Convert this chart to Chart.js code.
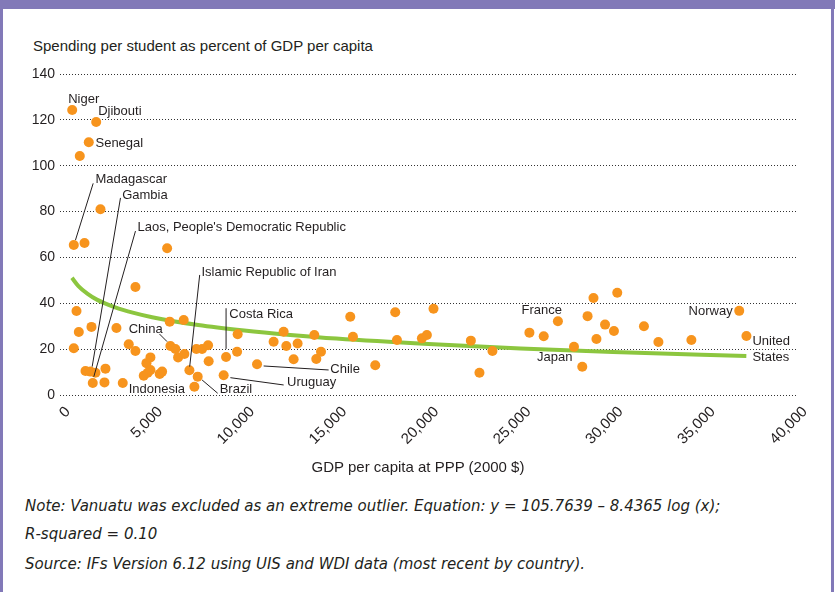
<!DOCTYPE html>
<html>
<head>
<meta charset="utf-8">
<script src="https://cdn.jsdelivr.net/npm/chart.js@4/dist/chart.umd.min.js"></script>
<style>
  html, body { margin: 0; padding: 0; background: #fff; }
  #wrap { position: relative; width: 835px; height: 592px; overflow: hidden; background: #fff; }
  .frame { position: absolute; background: #8279b8; }
  .txt { position: absolute; color: #231f20; white-space: nowrap; line-height: 1; }
  .sans { font-family: 'Liberation Sans', Arial, sans-serif; font-size: 15px; }
  .note { font-family: 'DejaVu Sans', sans-serif; font-style: italic; font-size: 15px; }
  #c { position: absolute; left: 0; top: 0; }
</style>
</head>
<body>
<div id="wrap">
  <div class="frame" style="left:0;top:0;width:835px;height:9px;"></div>
  <div class="frame" style="left:0;top:0;width:3px;height:592px;"></div>
  <div class="frame" style="left:831px;top:0;width:3px;height:592px;"></div>
  <div class="txt sans" style="left:33px;top:38px;">Spending per student as percent of GDP per capita</div>
  <canvas id="c" width="835" height="480"></canvas>
  <div class="txt sans" style="left:218px;top:459px;width:400px;text-align:center;">GDP per capita at PPP (2000 $)</div>
  <div class="txt note" style="left:25px;top:499px;">Note: Vanuatu was excluded as an extreme outlier. Equation: y = 105.7639 – 8.4365 log (x);</div>
  <div class="txt note" style="left:25px;top:527px;">R-squared = 0.10</div>
  <div class="txt note" style="left:25px;top:557px;">Source: IFs Version 6.12 using UIS and WDI data (most recent by country).</div>
</div>
<script>
// ---- data ----
const gdp = [662, 748, 748, 895, 1020, 1074, 1329, 1383, 1562, 1654, 1708, 1779, 1925, 1963, 2196, 2413, 2467,
  3064, 3406, 3731, 4094, 4094, 4545, 4691, 4761, 4908, 4908, 5412, 5542, 5814, 5954, 5992, 6263, 6410, 6714,
  6752, 7023, 7294, 7402, 7473, 7711, 8037, 8069, 8883, 9013, 9610, 9642, 10694, 11594, 12137, 12283, 12679,
  12896, 13802, 13910, 14165, 15754, 15900, 17110, 18194, 18287, 19642, 19913, 20272, 22299, 22766, 23471,
  25477, 26253, 27023, 27896, 28346, 28633, 28954, 29116, 29582, 30065, 30245, 31693, 32478, 34268, 36865, 37256];
const spending = [124.3, 65.4, 20.4, 36.6, 27.5, 104.2, 66.3, 10.5, 110.2, 10.2, 29.7, 5.2, 9.7, 119.1, 81.0, 5.5, 11.5,
  29.2, 5.2, 22.1, 47.1, 19.2, 8.4, 13.9, 9.7, 16.4, 10.9, 9.2, 10.2, 64.0, 32.0, 21.4, 20.1, 16.4, 32.7,
  17.9, 10.8, 3.6, 20.1, 8.0, 20.1, 21.7, 14.7, 8.6, 16.6, 18.9, 26.5, 13.4, 23.2, 27.6, 21.4, 15.6,
  22.5, 26.2, 15.7, 18.9, 34.1, 25.4, 13.0, 36.1, 24.0, 24.7, 26.2, 37.6, 23.7, 9.7, 19.2,
  27.2, 25.6, 32.2, 21.0, 12.3, 34.4, 42.3, 24.4, 30.7, 27.9, 44.6, 30.0, 23.1, 24.0, 36.7, 25.7];
const countries = ['Niger', 'Madagascar', '', '', '', '', '', '', 'Senegal', 'Gambia', '', 'Laos', '', 'Djibouti', '', '', '',
  '', '', '', '', '', '', '', '', '', '', '', '', '', '', 'China', '', '', '',
  '', 'Iran', 'Indonesia', '', 'Brazil', '', '', '', 'Uruguay', 'Costa Rica', '', '', 'Chile', '', '', '', '',
  '', '', '', '', '', '', '', '', '', '', '', '', '', '', '',
  '', '', 'France', 'Japan', '', '', '', '', '', '', '', '', '', '', 'Norway', 'United States'];
// fitted curve as drawn in the picture
const trendGdp = [650, 1000, 1500, 2000, 3000, 4000, 5000, 7500, 10000, 12500, 15000, 20000, 25000, 30000, 37250];
const trendSpending = [51.1, 47.5, 44.1, 41.6, 38.2, 35.8, 33.9, 30.5, 28.1, 26.2, 24.6, 22.2, 20.3, 18.8, 17.0];
const yTickValues = [0, 20, 40, 60, 80, 100, 120, 140];
const xTickValues = [0, 5000, 10000, 15000, 20000, 25000, 30000, 35000, 40000];

// ---- label styling (offsets in px from the labelled dot) ----
const labelDefs = [
  { name: 'Niger', text: ['Niger'], dx: -4, dy: -7.3 },
  { name: 'Djibouti', text: ['Djibouti'], dx: 2, dy: -7 },
  { name: 'Senegal', text: ['Senegal'], dx: 6.7, dy: 4.4 },
  { name: 'Madagascar', text: ['Madagascar'], dx: 21.7, dy: -61.7, line: [19.4, -61.7, 1.7, -5] },
  { name: 'Gambia', text: ['Gambia'], dx: 31.7, dy: -173, line: [30, -173.7, 1.7, -5] },
  { name: 'Laos', text: ["Laos, People's Democratic Republic"], dx: 44.7, dy: -152, line: [42.7, -152, 1, -6.3] },
  { name: 'Iran', text: ['Islamic Republic of Iran'], dx: 12, dy: -94.3, line: [10.3, -95.3, 0.3, -3.6] },
  { name: 'Costa Rica', text: ['Costa Rica'], dx: 3.3, dy: -39.3, line: [0, -48.7, 0, -8] },
  { name: 'China', text: ['China'], dx: -41.7, dy: -13.3, line: [-11, -12, -3.3, -4.3] },
  { name: 'Indonesia', text: ['Indonesia'], dx: -65.7, dy: 6 },
  { name: 'Brazil', text: ['Brazil'], dx: 22, dy: 16.6, line: [4.4, 3.3, 20, 16.6] },
  { name: 'Uruguay', text: ['Uruguay'], dx: 63.4, dy: 10.7, line: [6.7, 2.4, 60, 9.7] },
  { name: 'Chile', text: ['Chile'], dx: 73.3, dy: 9, line: [6.6, 1.7, 71.6, 5.7] },
  { name: 'France', text: ['France'], dx: -36.3, dy: -7.3 },
  { name: 'Japan', text: ['Japan'], dx: -36.9, dy: 14.2 },
  { name: 'Norway', text: ['Norway'], dx: -6.6, dy: 4.6, align: 'right' },
  { name: 'United States', text: ['United', 'States'], dx: 6, dy: 9.2, gap: 15.8 }
];

const INK = '#231f20';
const FONT = "'Liberation Sans', Arial, sans-serif";

const labelPlugin = {
  id: 'countryLabels',
  afterDatasetsDraw(chart) {
    const { ctx, scales: { x, y } } = chart;
    ctx.save();
    ctx.font = '13px ' + FONT;
    ctx.fillStyle = INK;
    ctx.strokeStyle = INK;
    ctx.lineWidth = 1;
    ctx.textBaseline = 'alphabetic';
    labelDefs.forEach(d => {
      const i = countries.indexOf(d.name);
      if (i < 0) return;
      const px = x.getPixelForValue(gdp[i]);
      const py = y.getPixelForValue(spending[i]);
      ctx.textAlign = d.align || 'left';
      d.text.forEach((t, k) => ctx.fillText(t, px + d.dx, py + d.dy + k * (d.gap || 0)));
      if (d.line) {
        ctx.beginPath();
        ctx.moveTo(px + d.line[0], py + d.line[1]);
        ctx.lineTo(px + d.line[2], py + d.line[3]);
        ctx.stroke();
      }
    });
    ctx.restore();
  }
};

new Chart(document.getElementById('c'), {
  type: 'scatter',
  data: {
    datasets: [
      {
        label: 'Countries',
        data: gdp.map((g, i) => ({ x: g, y: spending[i] })),
        backgroundColor: '#f7941d',
        borderWidth: 0,
        pointRadius: 5,
        pointHoverRadius: 5,
        order: 0
      },
      {
        label: 'Trend',
        type: 'line',
        data: trendGdp.map((g, i) => ({ x: g, y: trendSpending[i] })),
        borderColor: '#8cc63f',
        borderWidth: 4,
        pointRadius: 0,
        fill: false,
        cubicInterpolationMode: 'monotone',
        order: 1
      }
    ]
  },
  options: {
    responsive: false,
    animation: false,
    devicePixelRatio: 1,
    layout: { padding: { top: 74, right: 38, bottom: 0, left: 0 } },
    plugins: { legend: { display: false }, tooltip: { enabled: false }, title: { display: false } },
    scales: {
      x: {
        type: 'linear',
        min: 0, max: 40000,
        afterBuildTicks: s => { s.ticks = xTickValues.map(v => ({ value: v })); },
        afterFit: s => { s.height = 85; },
        grid: { display: false, drawTicks: false },
        border: { display: false },
        ticks: {
          minRotation: 45, maxRotation: 45,
          padding: 8,
          labelOffset: 8,
          color: INK,
          font: { family: FONT, size: 15 },
          callback: v => Number(v).toLocaleString('en-US')
        }
      },
      y: {
        min: 0, max: 140,
        afterBuildTicks: s => { s.ticks = yTickValues.map(v => ({ value: v })); },
        afterFit: s => { s.width = 60; },
        grid: { color: '#333', lineWidth: 1, drawTicks: false },
        border: { display: false, dash: [1, 2] },
        ticks: {
          padding: 5,
          color: INK,
          font: { family: FONT, size: 14 }
        }
      }
    }
  },
  plugins: [labelPlugin]
});
</script>
</body>
</html>
